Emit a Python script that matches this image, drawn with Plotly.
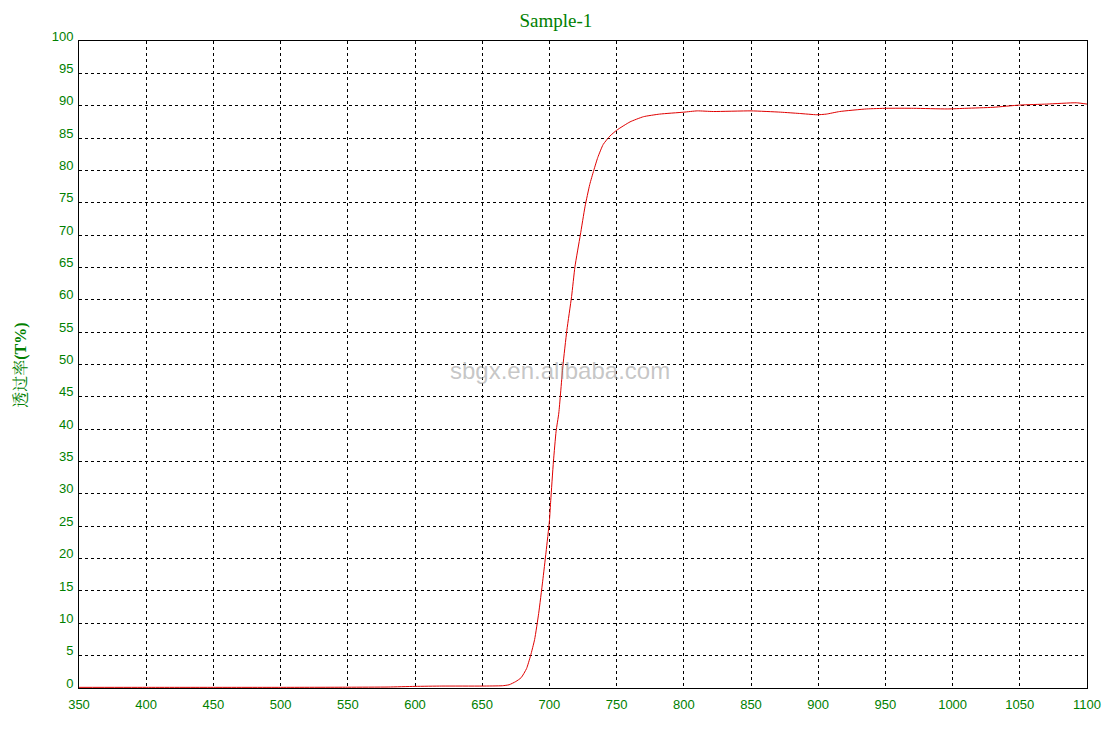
import plotly.graph_objects as go

# wavelength (nm) and transmittance (%)
wavelength = [350, 400, 450, 500, 550, 580, 600, 620, 650, 665, 670, 675, 679,
              683, 686, 689, 692, 695, 697.5, 700, 701, 703, 705, 707, 710,
              713, 716.5, 719, 723, 726.5, 730, 733, 736, 740, 745, 750, 760,
              770, 782, 800, 810, 822, 850, 872, 886, 899, 906, 916, 936, 951,
              971, 996, 1010, 1030, 1050, 1070, 1092, 1100]
transmittance = [0.1, 0.1, 0.1, 0.1, 0.12, 0.15, 0.25, 0.3, 0.3, 0.35, 0.5, 1.0, 1.6,
                 3.0, 5.0, 7.5, 11.5, 16.5, 21.0, 25.8, 29.0, 35.0, 39.7, 42.5, 49.7,
                 55.3, 60.5, 65.1, 70.0, 74.4, 77.8, 80.0, 82.0, 84.0, 85.3, 86.2, 87.5,
                 88.3, 88.7, 89.0, 89.2, 89.1, 89.2, 89.0, 88.8, 88.6, 88.7, 89.1, 89.5, 89.6,
                 89.6, 89.5, 89.6, 89.75, 90.1, 90.25, 90.45, 90.25]

x_ticks = list(range(350, 1101, 50))
y_ticks = list(range(0, 101, 5))

green = "#008000"

fig = go.Figure()
fig.add_trace(go.Scatter(x=wavelength, y=transmittance, mode="lines",
                         line=dict(color="#e00000", width=1, shape="spline", smoothing=0.5),
                         showlegend=False))

axis_common = dict(showline=True, linecolor="black", linewidth=1, mirror=True,
                   showgrid=True, gridcolor="black", gridwidth=1, griddash="3px,3px",
                   zeroline=False, ticks="", automargin=False,
                   tickfont=dict(family="Liberation Sans", size=13, color=green))

fig.update_xaxes(range=[350, 1100], tickvals=x_ticks, ticklabelstandoff=4, **axis_common)
fig.update_yaxes(range=[0, 100], tickvals=y_ticks, ticklabelstandoff=2,
                 ticklabelshift=-5, **axis_common)

# the page body adds an 8px margin, so the figure is sized/offset to compensate
fig.update_layout(
    width=1109, height=731,
    margin=dict(l=71, r=30, t=33, b=51),
    paper_bgcolor="white", plot_bgcolor="white",
    title=dict(text="Sample-1", x=0.494, xref="container", xanchor="center",
               y=1 - 12 / 731, yref="container", yanchor="middle",
               font=dict(family="Liberation Serif", size=19, color=green)),
)

fig.add_annotation(text="透过率<b><span style='font-family:Liberation Serif'>(T%)</span></b>",
                   xref="paper", yref="paper",
                   x=-0.0585, y=0.498, textangle=-90, showarrow=False,
                   xanchor="center", yanchor="middle",
                   font=dict(family="Noto Serif CJK SC, Noto Sans CJK SC", size=16, color=green))

fig.add_annotation(text="sbgx.en.alibaba.com", xref="paper", yref="paper",
                   x=0.477, y=0.491, showarrow=False,
                   font=dict(family="Liberation Sans", size=24, color="rgba(150,150,150,0.55)"))

fig.write_html("out.html")
